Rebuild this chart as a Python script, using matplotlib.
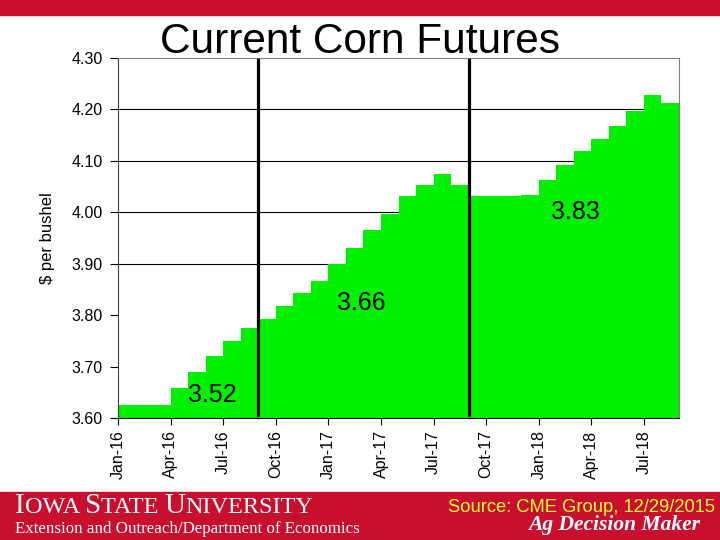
import numpy as np
import matplotlib.pyplot as plt
from matplotlib.patches import Rectangle
from matplotlib.transforms import ScaledTranslation

plt.rcParams['font.family'] = ['Liberation Sans', 'DejaVu Sans']

# monthly futures, Jan-16 .. Aug-18 ($/bu)
months = ['Jan-16', 'Feb-16', 'Mar-16', 'Apr-16', 'May-16', 'Jun-16', 'Jul-16', 'Aug-16',
          'Sep-16', 'Oct-16', 'Nov-16', 'Dec-16', 'Jan-17', 'Feb-17', 'Mar-17', 'Apr-17',
          'May-17', 'Jun-17', 'Jul-17', 'Aug-17', 'Sep-17', 'Oct-17', 'Nov-17', 'Dec-17',
          'Jan-18', 'Feb-18', 'Mar-18', 'Apr-18', 'May-18', 'Jun-18', 'Jul-18', 'Aug-18']
price = [3.625, 3.625, 3.625, 3.659, 3.690, 3.721, 3.750, 3.774,
         3.793, 3.818, 3.843, 3.867, 3.900, 3.931, 3.965, 3.997,
         4.031, 4.052, 4.074, 4.053, 4.031, 4.031, 4.031, 4.033,
         4.063, 4.091, 4.119, 4.143, 4.167, 4.197, 4.228, 4.212]
# crop year boundaries and average prices
breaks = ['Sep-16', 'Sep-17']
avg_labels = ['3.52', '3.66', '3.83']
avg_pos = [(5.4, 3.645), (13.9, 3.824), (26.1, 4.0)]
grid_levels = [3.90, 4.00, 4.10, 4.20]

red = '#C8102E'
green = '#00F000'

fig = plt.figure(figsize=(7.2, 5.4), dpi=100)
ax = fig.add_axes([0.164, 0.226, 0.779, 0.667])

x = np.arange(len(price) + 1)
y = price + [price[-1]]
for g in grid_levels:
    ax.axhline(g, color='black', lw=0.8, zorder=1)
ax.fill_between(x, y, 3.6, step='post', color=green, lw=0, zorder=2)
for b in breaks:
    ax.axvline(months.index(b), ymin=0.008, ymax=0.995, color='black', lw=2.3, zorder=3)
for t, (px, py) in zip(avg_labels, avg_pos):
    ax.text(px, py, t, fontsize=18, ha='center', va='center', zorder=4)

ax.set_xlim(0, len(price))
ax.set_ylim(3.6, 4.3)
yt = np.arange(3.6, 4.31, 0.1)
ax.set_yticks(yt)
ax.set_yticklabels(['%.2f' % v for v in yt], fontsize=11.5)
tick_idx = list(range(0, len(months), 3))
ax.set_xticks(tick_idx)
ax.set_xticklabels([months[i] for i in tick_idx], rotation=90, fontsize=11.5)
shift = ScaledTranslation(0.1, 0, fig.dpi_scale_trans)
for lab in ax.get_xticklabels():
    lab.set_transform(lab.get_transform() + shift)
ax.tick_params(axis='y', length=6, width=0.8, pad=5)
ax.tick_params(axis='x', length=5, width=0.8, pad=4)
ax.set_ylabel('$ per bushel', fontsize=12, labelpad=12)
for s in ['top', 'right']:
    ax.spines[s].set_color('#808080')
ax.spines['left'].set_color('#404040')

fig.text(0.5, 0.922, 'Current Corn Futures', fontsize=30.5, ha='center', va='center')

# banners
fig.patches.append(Rectangle((0, 0.972), 1, 0.028, transform=fig.transFigure, color=red))
fig.patches.append(Rectangle((0, 0), 1, 0.089, transform=fig.transFigure, color=red))

# small-caps university name built from pieces
parts = [('I', 21), ('OWA ', 17.5), ('S', 21), ('TATE ', 17.5), ('U', 21), ('NIVERSITY', 17.5)]
pieces = [fig.text(0, 0.05, s, fontsize=fs, color='white', family='Liberation Serif',
                   va='baseline') for s, fs in parts]
fig.canvas.draw()
r = fig.canvas.get_renderer()
xpos = 0.021
for t in pieces:
    t.set_x(xpos)
    xpos += t.get_window_extent(r).width / fig.bbox.width

fig.text(0.021, 0.02, 'Extension and Outreach/Department of Economics', fontsize=12.2,
         color='white', family='Liberation Serif', va='center')
fig.text(0.993, 0.06, 'Source: CME Group, 12/29/2015', fontsize=13.2, color='#FFFF33',
         ha='right', va='center')
fig.text(0.853, 0.028, 'Ag Decision Maker', fontsize=15.5, color='white',
         family='Liberation Serif', weight='bold', style='italic', ha='center', va='center')

fig.savefig('out.png', dpi=100)
